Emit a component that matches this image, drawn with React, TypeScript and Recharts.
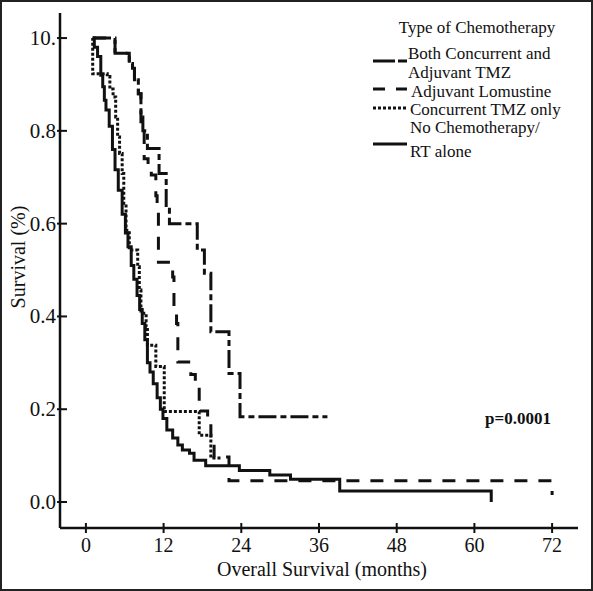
import React from 'react';
import { LineChart, Line, XAxis, YAxis, Legend } from 'recharts';

const xTicks = [0, 12, 24, 36, 48, 60, 72];
const yTicks = [0, 0.2, 0.4, 0.6, 0.8, 1.0];
const yTickLabels = ['0.0', '0.2', '0.4', '0.6', '0.8', '10.'];

// Both concurrent and adjuvant TMZ (dash-dot)
const bothMonths = [1.1, 4.5, 6.7, 7.2, 7.5, 8.1, 8.5, 8.8, 9.5, 11.3, 12.4, 12.9, 17.2, 18.3, 19.3, 22.1, 23.8, 37.3];
const bothSurv = [1.0, 0.967, 0.945, 0.935, 0.91, 0.88, 0.83, 0.8, 0.762, 0.708, 0.636, 0.6, 0.543, 0.493, 0.367, 0.277, 0.184, 0.184];

// Adjuvant lomustine (dashed)
const lomMonths = [1.1, 4.5, 6.7, 7.2, 7.5, 8.1, 8.5, 9.0, 9.6, 10.1, 10.8, 11.0, 11.2, 13.4, 13.6, 14.0, 14.2, 16.2, 16.9, 17.5, 18.8, 19.3, 19.8, 22.1, 72];
const lomSurv = [1.0, 0.967, 0.945, 0.935, 0.91, 0.88, 0.8, 0.74, 0.72, 0.705, 0.66, 0.64, 0.517, 0.485, 0.42, 0.385, 0.302, 0.275, 0.259, 0.196, 0.172, 0.12, 0.097, 0.046, 0.015];

// Concurrent TMZ only (dotted)
const concMonths = [1.0, 1.05, 3.3, 3.7, 4.2, 4.6, 4.9, 5.2, 5.6, 5.85, 6.2, 6.7, 8.0, 8.25, 8.5, 9.3, 9.5, 10.8, 12.1, 17.5, 19.3, 20.9];
const concSurv = [1.0, 0.923, 0.917, 0.89, 0.873, 0.83, 0.787, 0.751, 0.708, 0.644, 0.586, 0.543, 0.507, 0.457, 0.407, 0.378, 0.338, 0.292, 0.195, 0.144, 0.095, 0.095];

// No chemotherapy / RT alone (solid)
const rtMonths = [1.1, 1.3, 1.8, 2.3, 2.6, 2.85, 3.1, 3.6, 4.1, 4.5, 5.0, 5.6, 6.1, 6.5, 7.0, 7.4, 7.9, 8.3, 8.7, 9.1, 9.5, 9.9, 10.4, 11.0, 11.5, 11.9, 12.5, 13.4, 14.2, 14.9, 16.0, 16.7, 18.5, 23.7, 28.4, 31.6, 39.2, 62.6];
const rtSurv = [1.0, 0.98, 0.96, 0.92, 0.895, 0.866, 0.845, 0.81, 0.76, 0.716, 0.672, 0.62, 0.58, 0.55, 0.51, 0.48, 0.445, 0.415, 0.385, 0.35, 0.3, 0.28, 0.255, 0.225, 0.2, 0.18, 0.155, 0.138, 0.123, 0.112, 0.105, 0.09, 0.078, 0.068, 0.058, 0.049, 0.024, 0.0];

const toSteps = (months: number[], surv: number[]) => months.map((t, i) => ({ t, s: surv[i] }));

const FONT = '"Liberation Serif", "Times New Roman", serif';
const INK = '#111';

const DASH_DOT = '18 4 6 4';
const DASHED = '13 11';
const DOTTED = '3 2';

function XTick({ x, y, payload }: any) {
  return (
    <g>
      <line x1={x} x2={x} y1={y - 5} y2={y + 5} stroke={INK} strokeWidth={2} />
      <text x={x} y={y + 24} textAnchor="middle" fontFamily={FONT} fontSize={20} fill={INK}>
        {payload.value}
      </text>
    </g>
  );
}

function YTick({ x, y, payload }: any) {
  const i = yTicks.findIndex((v) => Math.abs(v - payload.value) < 1e-6);
  return (
    <g>
      <line x1={x - 3} x2={x + 7} y1={y} y2={y} stroke={INK} strokeWidth={2} />
      <text x={x - 4} y={y + 7} textAnchor="end" fontFamily={FONT} fontSize={21} fill={INK}>
        {yTickLabels[i]}
      </text>
    </g>
  );
}

function LegendBox() {
  const txt = { fontFamily: FONT, fontSize: 17, fill: INK };
  return (
    <svg width={220} height={160}>
      <text x={117} y={23} textAnchor="middle" {...txt}>Type of Chemotherapy</text>
      <line x1={13} x2={47} y1={51} y2={51} stroke={INK} strokeWidth={3} strokeDasharray="22 3 9" />
      <text x={48} y={49} {...txt}>Both Concurrent and</text>
      <text x={48} y={68} {...txt}>Adjuvant TMZ</text>
      <line x1={13} x2={47} y1={79} y2={79} stroke={INK} strokeWidth={3} strokeDasharray="12 11" />
      <text x={51} y={87} {...txt}>Adjuvant Lomustine</text>
      <line x1={13} x2={48} y1={98} y2={98} stroke={INK} strokeWidth={3} strokeDasharray={DOTTED} />
      <text x={50} y={105} {...txt}>Concurrent TMZ only</text>
      <line x1={13} x2={47} y1={134} y2={134} stroke={INK} strokeWidth={3} />
      <text x={50} y={123} {...txt}>No Chemotherapy/</text>
      <text x={50} y={147} {...txt}>RT alone</text>
    </svg>
  );
}

export default function App() {
  return (
    <div style={{ position: 'relative', width: 593, height: 591, background: '#fff' }}>
      <style>{'body{margin:0}'}</style>
      <LineChart width={593} height={591} margin={{ top: 13, right: 15, bottom: 0, left: 0 }}>
        <XAxis
          type="number"
          dataKey="t"
          domain={[-4, 76]}
          ticks={xTicks}
          interval={0}
          allowDataOverflow
          height={63}
          tickSize={0}
          tickMargin={0}
          tickLine={false}
          tick={XTick}
          axisLine={{ stroke: INK, strokeWidth: 2.5 }}
        />
        <YAxis
          type="number"
          dataKey="s"
          domain={[-0.056, 1.054]}
          ticks={yTicks}
          interval={0}
          allowDataOverflow
          width={60}
          tickSize={0}
          tickMargin={0}
          tickLine={false}
          tick={YTick}
          axisLine={{ stroke: INK, strokeWidth: 2.5 }}
        />
        <Legend
          layout="vertical"
          align="center"
          verticalAlign="middle"
          content={LegendBox}
          wrapperStyle={{ position: 'absolute', left: 360, top: 10, width: 220, height: 160 }}
        />
        <Line data={toSteps(rtMonths, rtSurv)} dataKey="s" name="No Chemotherapy/RT alone" type="stepAfter"
          stroke={INK} strokeWidth={3} dot={false} activeDot={false} isAnimationActive={false} />
        <Line data={toSteps(concMonths, concSurv)} dataKey="s" name="Concurrent TMZ only" type="stepAfter"
          stroke={INK} strokeWidth={3} strokeDasharray={DOTTED} dot={false} activeDot={false} isAnimationActive={false} />
        <Line data={toSteps(lomMonths, lomSurv)} dataKey="s" name="Adjuvant Lomustine" type="stepAfter"
          stroke={INK} strokeWidth={3} strokeDasharray={DASHED} dot={false} activeDot={false} isAnimationActive={false} />
        <Line data={toSteps(bothMonths, bothSurv)} dataKey="s" name="Both Concurrent and Adjuvant TMZ" type="stepAfter"
          stroke={INK} strokeWidth={3} strokeDasharray={DASH_DOT} dot={false} activeDot={false} isAnimationActive={false} />
      </LineChart>
      <svg width={593} height={591} style={{ position: 'absolute', left: 0, top: 0, pointerEvents: 'none' }}>
        <text x={322} y={576} textAnchor="middle" fontFamily={FONT} fontSize={20} fill={INK}>
          Overall Survival (months)
        </text>
        <text x={25} y={257} transform="rotate(-90 25 257)" textAnchor="middle" fontFamily={FONT} fontSize={20} fill={INK}>
          Survival (%)
        </text>
        <text x={485} y={424} fontFamily={FONT} fontSize={17} fontWeight="bold" fill={INK}>
          p=0.0001
        </text>
        <rect x={1} y={1} width={591} height={589} fill="none" stroke="#222" strokeWidth={2} />
      </svg>
    </div>
  );
}
